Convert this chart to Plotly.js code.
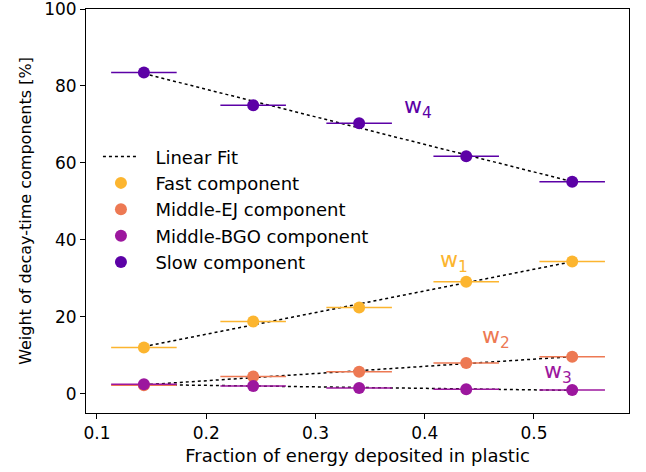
<!DOCTYPE html>
<html>
<head>
<meta charset="utf-8">
<script src="https://cdn.plot.ly/plotly-3.0.1.min.js"></script>
<style>html,body{margin:0;padding:0;background:#fff;}#chart{width:646px;height:472px;}</style>
</head>
<body>
<div id="chart"></div>
<script>
// Fraction of energy deposited in plastic
const xFrac = [0.143, 0.243, 0.340, 0.438, 0.535];
const xErr = [0.030, 0.030, 0.030, 0.030, 0.030];
// Weights [%]
const fastW = [12.0, 18.8, 22.4, 29.1, 34.4];
const middleEJW = [2.2, 4.5, 5.7, 8.0, 9.6];
const middleBGOW = [2.5, 2.0, 1.5, 1.2, 1.0];
const slowW = [83.5, 75.0, 70.3, 61.7, 55.1];
const yErr = [0.4, 0.4, 0.4, 0.4, 0.4];

const fitName = "Linear Fit";
const seriesNames = ["Fast component", "Middle-EJ component", "Middle-BGO component", "Slow component"];
const seriesColors = ["#fcb52f", "#ed7953", "#9c179e", "#5c01a6"];
const seriesData = [fastW, middleEJW, middleBGOW, slowW];
const labelText = ["w<sub>1</sub>", "w<sub>2</sub>", "w<sub>3</sub>", "w<sub>4</sub>"];
const labelX = [0.427, 0.465, 0.522, 0.394];
const labelY = [34.5, 14.5, 5.5, 74.5];

function linFit(x, y) {
  const n = x.length;
  let sx = 0, sy = 0, sxx = 0, sxy = 0;
  for (let i = 0; i < n; i++) { sx += x[i]; sy += y[i]; sxx += x[i]*x[i]; sxy += x[i]*y[i]; }
  const b = (n*sxy - sx*sy) / (n*sxx - sx*sx);
  const a = (sy - b*sx) / n;
  return x.map(v => a + b*v);
}

const pad = "\u00a0\u00a0";
const font = "DejaVu Sans, Verdana, sans-serif";
const traces = [];
seriesData.forEach((ys, i) => {
  traces.push({
    x: xFrac, y: linFit(xFrac, ys), mode: "lines", type: "scatter",
    line: {color: "#000", width: 1.5, dash: "dot"},
    name: pad + fitName, showlegend: i === 0, legendgroup: "fit", legendrank: 1, hoverinfo: "skip"
  });
});
seriesData.forEach((ys, i) => {
  traces.push({
    x: xFrac, y: ys, mode: "markers", type: "scatter",
    name: pad + seriesNames[i], legendgroup: "s" + i, legendrank: 2 + i,
    marker: {color: seriesColors[i], size: 12},
    error_x: {type: "data", array: xErr, color: seriesColors[i], thickness: 1.5, width: 0},
    error_y: {type: "data", array: yErr, color: seriesColors[i], thickness: 1.5, width: 0}
  });
});

const annotations = labelText.map((t, i) => ({
  x: labelX[i], y: labelY[i], xref: "x", yref: "y", text: t, showarrow: false,
  font: {family: font, size: 22, color: seriesColors[i]}
}));

const layout = {
  width: 646, height: 472,
  margin: {l: 86, r: 17, t: 9, b: 59},
  paper_bgcolor: "#fff", plot_bgcolor: "#fff",
  font: {family: font, size: 17, color: "#000"},
  showlegend: true,
  legend: {x: 0.022, y: 0.68, xanchor: "left", yanchor: "top", bgcolor: "rgba(255,255,255,0)",
           font: {family: font, size: 18, color: "#000"}, traceorder: "grouped", tracegroupgap: 0,
           itemwidth: 36},
  xaxis: {
    range: [0.09, 0.587], tickvals: [0.1, 0.2, 0.3, 0.4, 0.5], ticktext: ["0.1", "0.2", "0.3", "0.4", "0.5"],
    showgrid: false, zeroline: false, showline: true, linecolor: "#000", linewidth: 1, mirror: true,
    ticks: "outside", ticklen: 5, tickcolor: "#000", tickfont: {family: font, size: 17},
    ticklabeloverflow: "allow",
    title: {text: "Fraction of energy deposited in plastic", font: {family: font, size: 18}, standoff: 6}
  },
  yaxis: {
    range: [-5, 100], tickvals: [0, 20, 40, 60, 80, 100],
    showgrid: false, zeroline: false, showline: true, linecolor: "#000", linewidth: 1, mirror: true,
    ticks: "outside", ticklen: 5, tickcolor: "#000", tickfont: {family: font, size: 17},
    ticklabeloverflow: "allow",
    title: {text: "Weight of decay-time components [%]", font: {family: font, size: 16}, standoff: 8}
  },
  annotations: annotations
};

Plotly.newPlot("chart", traces, layout, {displayModeBar: false, staticPlot: true});
</script>
</body>
</html>
